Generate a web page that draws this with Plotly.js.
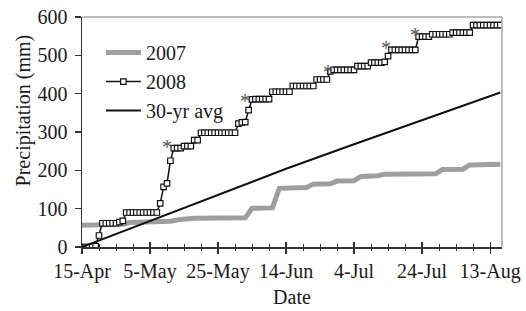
<!DOCTYPE html>
<html>
<head>
<meta charset="utf-8">
<script src="https://cdn.plot.ly/plotly-3.0.1.min.js"></script>
<style>html,body{margin:0;padding:0;background:#fff;}#chart{width:526px;height:311px;}</style>
</head>
<body>
<div id="chart"></div>
<script>
// Days since 15-Apr on x axis
var tickDays = [0, 20, 40, 60, 80, 100, 120];
var tickLabels = ['15-Apr', '5-May', '25-May', '14-Jun', '4-Jul', '24-Jul', '13-Aug'];

// 2007 cumulative precipitation (mm)
var days2007 = [0, 12, 14, 26, 29, 33, 48, 49, 50, 56, 57, 58, 66, 68, 73, 75, 80, 82, 87, 89, 104, 106, 112, 114, 123];
var precip2007 = [57, 59, 64, 67, 72, 75, 76, 90, 101, 102, 130, 153, 155, 164, 165, 172, 173, 184, 186, 190, 191, 202, 203, 214, 216];

// 2008 daily cumulative precipitation (mm), one value per day from 15-Apr
var precip2008 = [
  0, 0, 0, 1, 2, 30, 62, 62, 62, 62, 62, 65, 68, 90,
  90, 90, 90, 90, 90, 90, 90, 90, 90,
  114, 157, 166, 225, 258, 258, 258, 263, 263, 263, 279, 279,
  298, 298, 298, 298, 298, 298, 298, 298, 298, 298, 298,
  322, 325, 326, 357, 385,
  386, 386, 386, 386, 386,
  405, 405, 405, 405, 405, 405,
  420, 420, 420, 420, 420, 420, 420,
  437, 437, 437, 437,
  458, 462, 462, 462, 462, 462, 462, 462,
  472, 472, 472, 472,
  481, 481, 481, 481, 483, 498,
  514, 514, 514, 514, 514, 514, 514, 514,
  549, 549, 549, 549,
  555, 555, 555, 555, 555, 555,
  559, 559, 559, 559, 559, 559,
  579, 579, 579, 579, 579, 579, 579, 579, 579
];
var days2008 = precip2008.map(function (v, i) { return i; });

// 30-year average cumulative precipitation (mm)
var daysAvg = [0, 20, 40, 60, 80, 100, 123];
var precipAvg = [0, 68, 136, 204, 268, 330, 403];

// Asterisks marking significant events in 2008
var starDays = [25, 48, 72.4, 89.4, 98];
var starVals = [274, 395, 470, 533, 567];

var fontFam = '"Liberation Serif", "Times New Roman", serif';
var txtCol = '#1a1a1a';

var traces = [
  {x: days2007, y: precip2007, name: '2007', mode: 'lines',
   line: {color: '#9e9e9e', width: 5}},
  {x: days2008, y: precip2008, name: '2008', mode: 'lines+markers',
   line: {color: '#111', width: 1.5},
   marker: {symbol: 'square', size: 5.5, color: '#fff', line: {color: '#111', width: 1.2}}},
  {x: daysAvg, y: precipAvg, name: '30-yr avg', mode: 'lines',
   line: {color: '#111', width: 2}},
  {x: [], y: [], xaxis: 'x2', showlegend: false, hoverinfo: 'skip'}
];

var annotations = starDays.map(function (d, i) {
  return {x: d, y: starVals[i], xref: 'x', yref: 'y', text: '*', showarrow: false,
          font: {family: fontFam, size: 20, color: '#555555'}, yshift: -5};
});
annotations.push({
  x: -0.172, y: 0.595, xref: 'paper', yref: 'paper', text: 'Precipitation (mm)',
  textangle: -90, showarrow: false, font: {family: fontFam, size: 20, color: txtCol}
});

var layout = {
  width: 526, height: 311,
  margin: {l: 82, r: 24, t: 17, b: 64},
  paper_bgcolor: '#fff', plot_bgcolor: '#fff',
  font: {family: fontFam, size: 20, color: txtCol},
  showlegend: true,
  legend: {x: 0.045, y: 0.93, xanchor: 'left', yanchor: 'top', bgcolor: 'rgba(0,0,0,0)',
           font: {family: fontFam, size: 20, color: txtCol}, itemwidth: 35, tracegroupgap: 0},
  xaxis: {
    range: [0, 123.5], tickmode: 'array', tickvals: tickDays, ticktext: tickLabels,
    showgrid: false, zeroline: false, showline: true, linecolor: '#333', linewidth: 1.5,
    ticks: 'outside', ticklen: 5, tickwidth: 1.2, tickcolor: '#333',
    minor: {tickmode: 'linear', tick0: 0, dtick: 5, ticks: 'outside', ticklen: 2, tickwidth: 1, tickcolor: '#333'},
    tickfont: {family: fontFam, size: 20, color: txtCol},
    title: {text: 'Date', font: {family: fontFam, size: 20, color: txtCol}, standoff: 8}
  },
  xaxis2: {
    overlaying: 'x', anchor: 'y', side: 'bottom', range: [0, 123.5], tickmode: 'array',
    tickvals: tickDays, showticklabels: false, showgrid: false, zeroline: false, showline: false,
    ticks: 'inside', ticklen: 5, tickwidth: 1.2, tickcolor: '#333',
    minor: {tickmode: 'linear', tick0: 0, dtick: 5, ticks: 'inside', ticklen: 3, tickwidth: 1, tickcolor: '#333'}
  },
  yaxis: {
    range: [0, 600], dtick: 100, showgrid: false, zeroline: false, showline: true,
    linecolor: '#333', linewidth: 1.5, ticks: 'outside', ticklen: 6, tickwidth: 1.2, tickcolor: '#333',
    ticklabelstandoff: 3,
    tickfont: {family: fontFam, size: 20, color: txtCol}
  },
  shapes: [
    {type: 'line', xref: 'paper', yref: 'paper', x0: 0, x1: 1, y0: 1, y1: 1, line: {color: '#a6a6a6', width: 1.5}},
    {type: 'line', xref: 'paper', yref: 'paper', x0: 1, x1: 1, y0: 0, y1: 1, line: {color: '#a6a6a6', width: 1.5}}
  ],
  annotations: annotations
};

Plotly.newPlot('chart', traces, layout, {staticPlot: true, displayModeBar: false});
</script>
</body>
</html>
